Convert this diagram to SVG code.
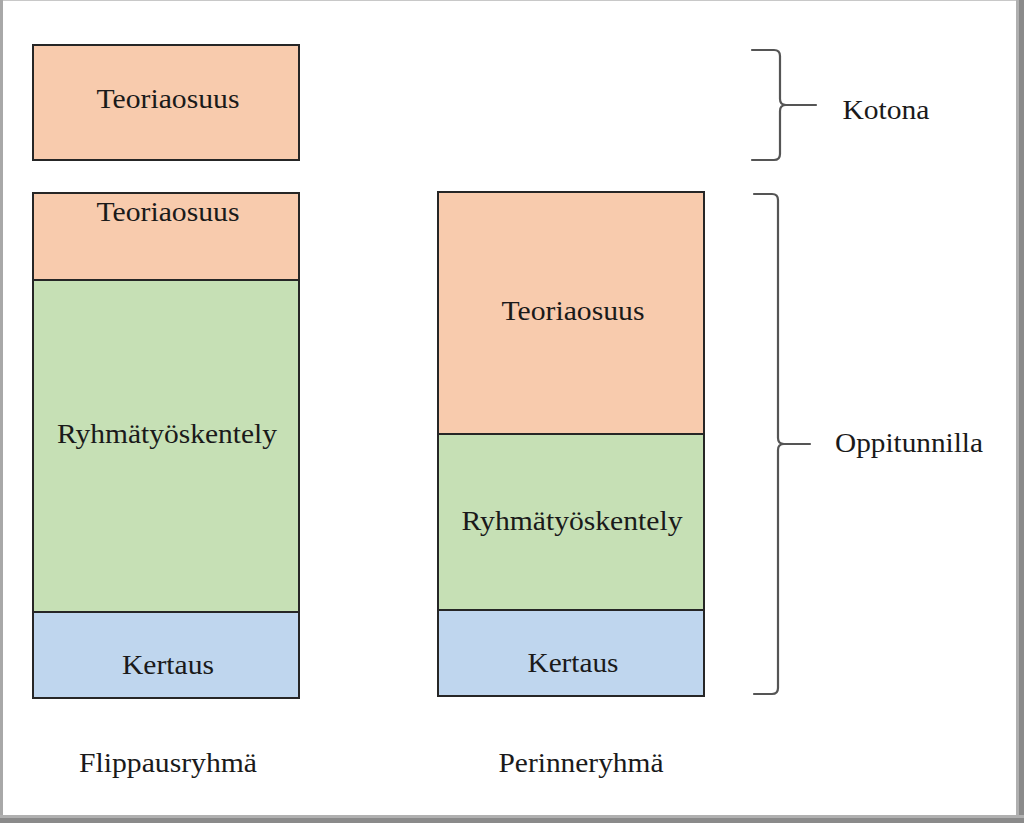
<svg xmlns="http://www.w3.org/2000/svg" width="1024" height="823" viewBox="0 0 1024 823">
<style>
.box{stroke:#262626;stroke-width:2}
.peach{fill:#F8CBAD}
.green{fill:#C6E0B5}
.blue{fill:#BFD6EE}
.t{font-family:"Liberation Serif","Times New Roman",serif;font-size:28px;fill:#1a1a1a;text-anchor:middle}
.brace{fill:none;stroke:#555;stroke-width:2.2;stroke-linecap:round;stroke-linejoin:round}
</style>
<rect x="0" y="0" width="1024" height="823" fill="#ffffff"/>
<g id="frame" fill="none">
<line x1="0" y1="0.5" x2="1024" y2="0.5" stroke="#c8c8c8" stroke-width="1"/>
<line x1="1.5" y1="0" x2="1.5" y2="823" stroke="#a8a8a8" stroke-width="3"/>
<rect x="1016" y="0" width="8" height="823" fill="#b0b0b0"/>
<rect x="1019" y="0" width="5" height="823" fill="#8a8a8a"/>
<rect x="0" y="815" width="1024" height="8" fill="#b0b0b0"/>
<rect x="0" y="818" width="1024" height="5" fill="#8a8a8a"/>
</g>
<g id="flip-home">
<rect class="box peach" x="33" y="45" width="266" height="115"/>
<text class="t" x="168" y="108" textLength="143" lengthAdjust="spacingAndGlyphs">Teoriaosuus</text>
</g>
<g id="flip-theory">
<rect class="box peach" x="33" y="193" width="266" height="87"/>
<text class="t" x="168" y="221" textLength="143" lengthAdjust="spacingAndGlyphs">Teoriaosuus</text>
</g>
<g id="flip-group">
<rect class="box green" x="33" y="280" width="266" height="332"/>
<text class="t" x="167" y="443" textLength="220" lengthAdjust="spacingAndGlyphs">Ryhmätyöskentely</text>
</g>
<g id="flip-review">
<rect class="box blue" x="33" y="612" width="266" height="86"/>
<text class="t" x="168" y="674" textLength="92" lengthAdjust="spacingAndGlyphs">Kertaus</text>
</g>
<g id="trad-theory">
<rect class="box peach" x="438" y="192" width="266" height="242"/>
<text class="t" x="573" y="320" textLength="143" lengthAdjust="spacingAndGlyphs">Teoriaosuus</text>
</g>
<g id="trad-group">
<rect class="box green" x="438" y="434" width="266" height="176"/>
<text class="t" x="572" y="530" textLength="221" lengthAdjust="spacingAndGlyphs">Ryhmätyöskentely</text>
</g>
<g id="trad-review">
<rect class="box blue" x="438" y="610" width="266" height="86"/>
<text class="t" x="573" y="672" textLength="91" lengthAdjust="spacingAndGlyphs">Kertaus</text>
</g>
<g id="labels">
<text class="t" x="168" y="772" textLength="178" lengthAdjust="spacingAndGlyphs">Flippausryhmä</text>
<text class="t" x="581" y="772" textLength="165" lengthAdjust="spacingAndGlyphs">Perinneryhmä</text>
</g>
<g id="connectors">
<path class="brace" d="M752 50 L774 50 Q780 50 780 56 L780 99 Q780 105 786 105 L816 105 M786 105 Q780 105 780 111 L780 154 Q780 160 774 160 L752 160"/>
<path class="brace" d="M754 194 L772 194 Q778 194 778 200 L778 438 Q778 444 784 444 L810 444 M784 444 Q778 444 778 450 L778 688 Q778 694 772 694 L754 694"/>
</g>
<g id="kotona">
<text class="t" x="886" y="119" textLength="87" lengthAdjust="spacingAndGlyphs">Kotona</text>
</g>
<g id="oppitunnilla">
<text class="t" x="909" y="452" textLength="148" lengthAdjust="spacingAndGlyphs">Oppitunnilla</text>
</g>
</svg>
